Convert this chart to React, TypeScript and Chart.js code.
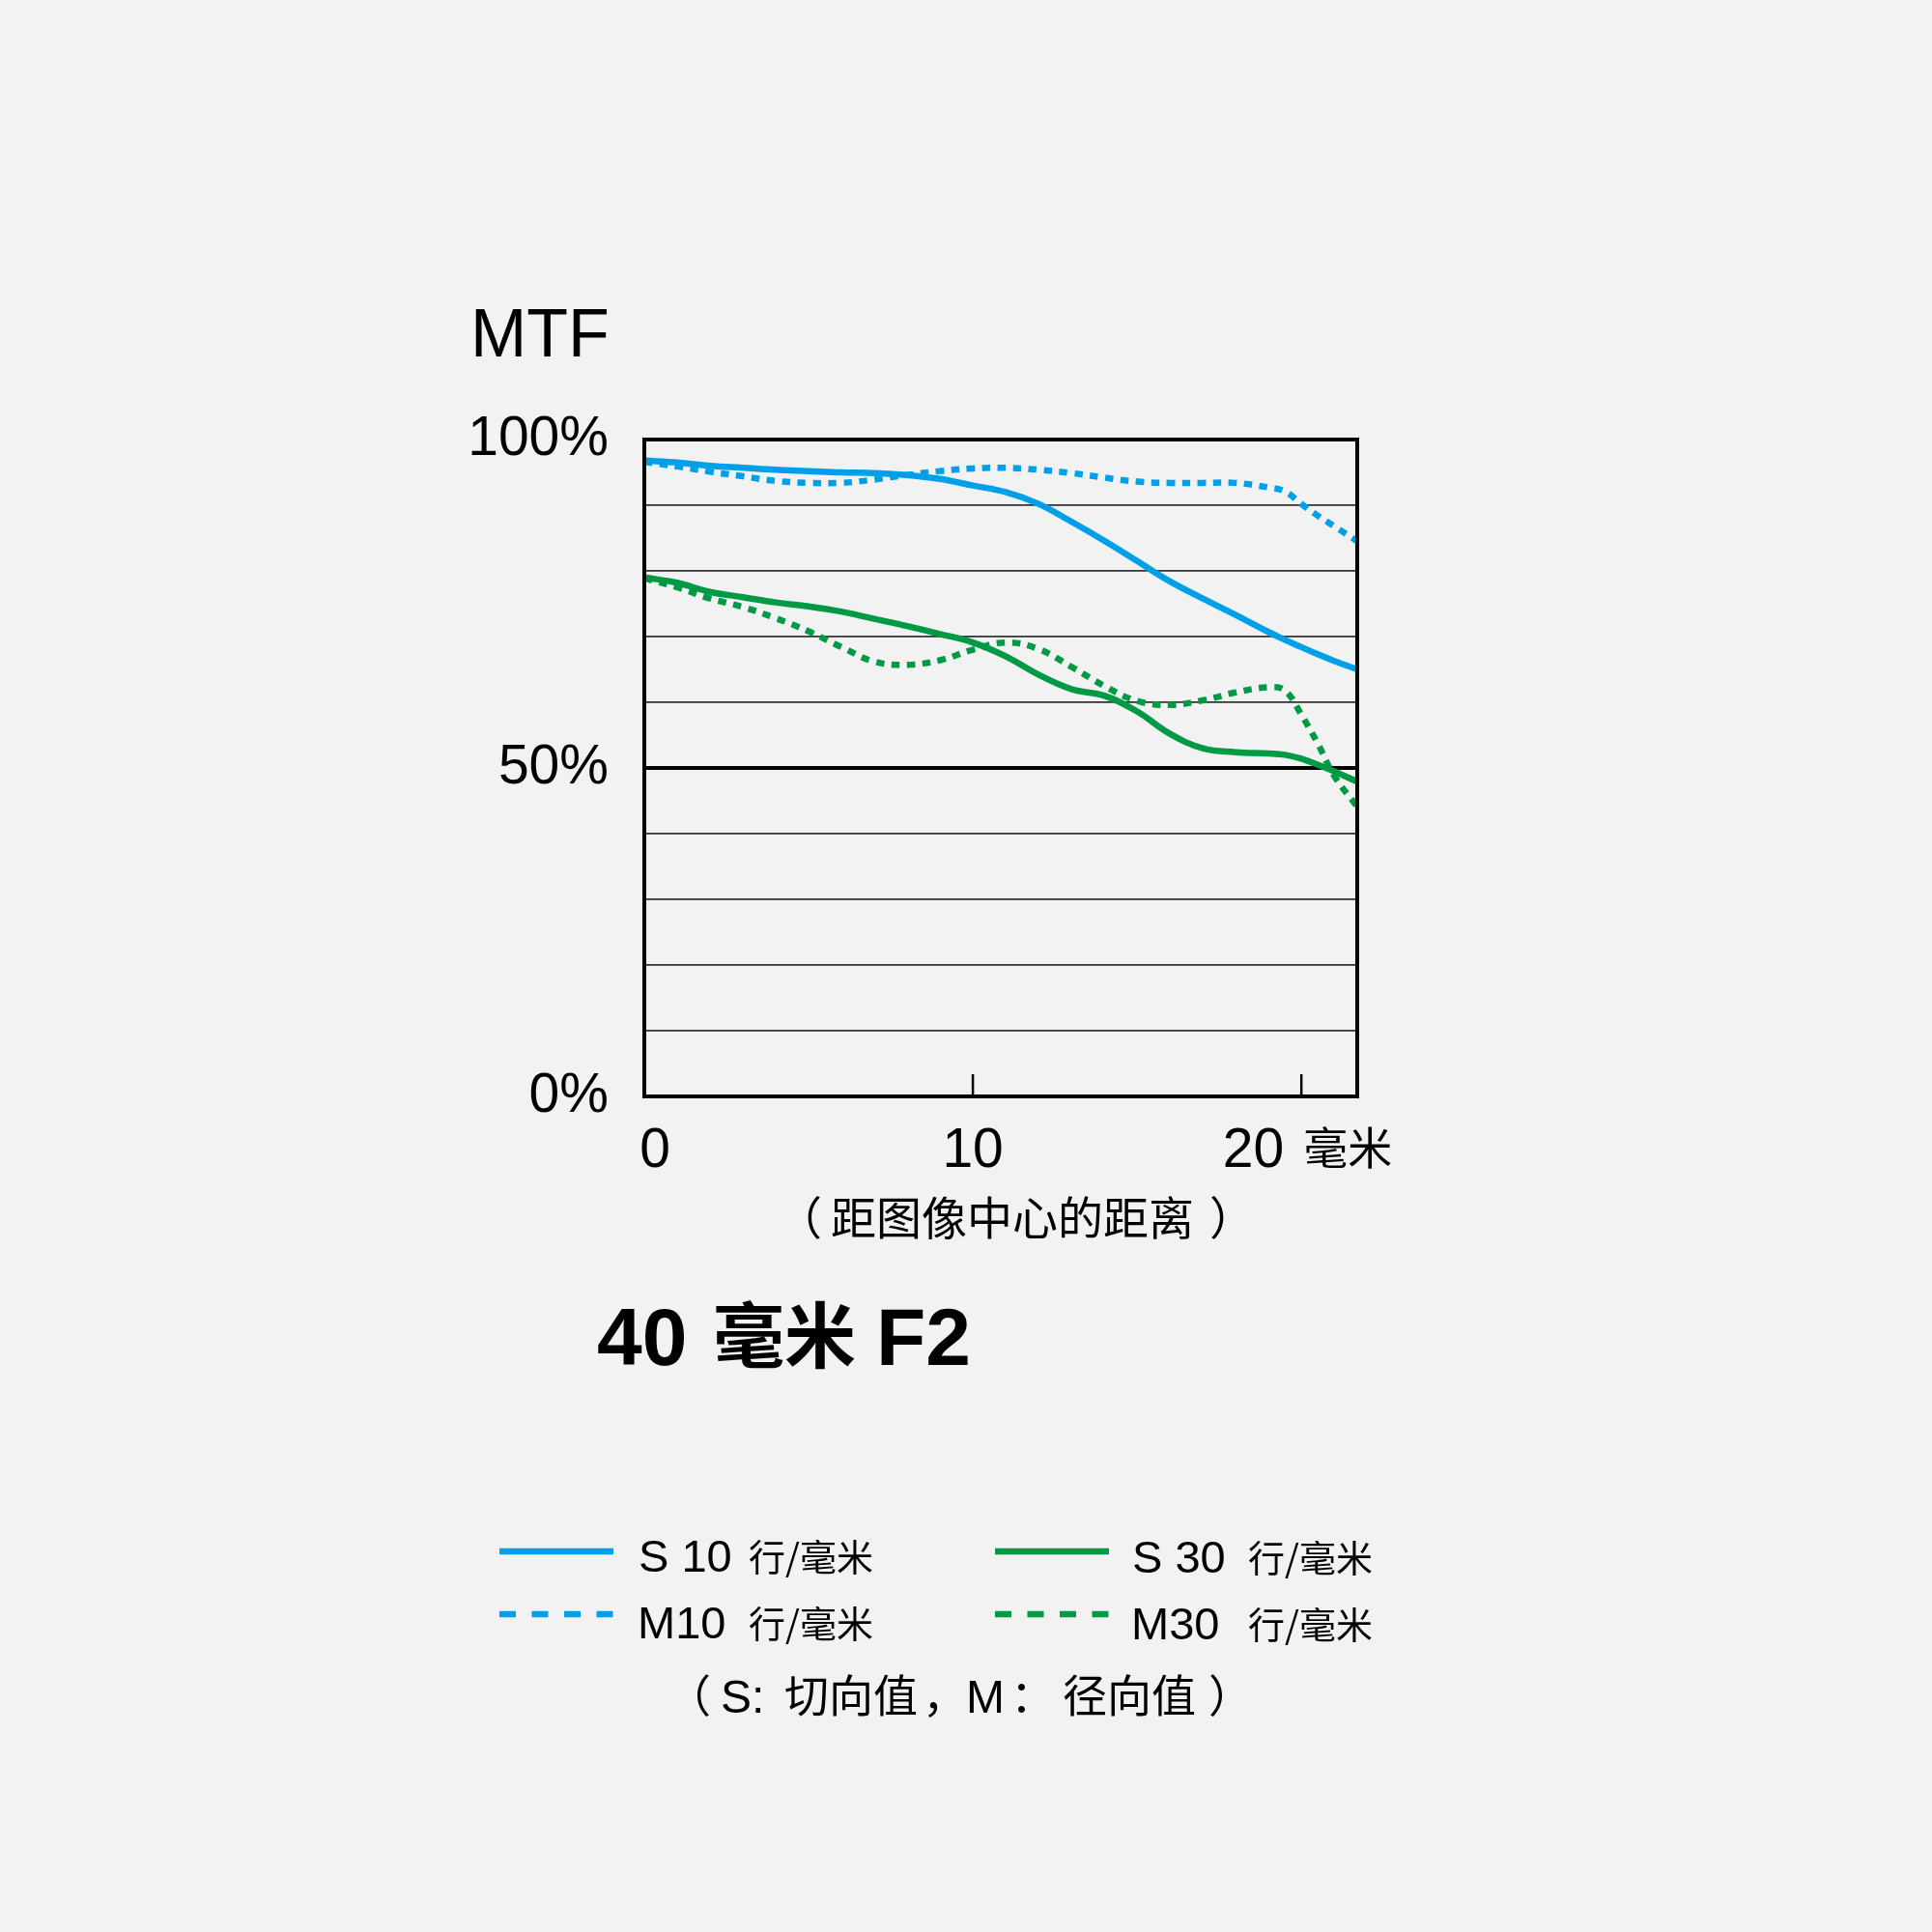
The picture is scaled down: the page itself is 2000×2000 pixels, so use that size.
import React, { useEffect, useRef } from "react";
import { Chart, registerables } from "chart.js";

Chart.register(...registerables);

// ---- data ----
const xPositions = [0, 1, 2, 3, 4, 5, 6, 7, 8, 9, 10, 11, 12, 13, 14, 15, 16, 17, 18, 19, 19.5, 20, 20.5, 21, 21.7];
const s10 = [96.8, 96.5, 96.0, 95.7, 95.4, 95.2, 95.0, 94.9, 94.6, 94.0, 93.0, 92.0, 90.2, 87.5, 84.6, 81.5, 78.4, 75.8, 73.3, 70.7, 69.5, 68.4, 67.3, 66.3, 65.0];
const m10 = [96.6, 95.9, 95.1, 94.4, 93.7, 93.4, 93.4, 93.9, 94.6, 95.2, 95.6, 95.7, 95.4, 94.9, 94.2, 93.6, 93.4, 93.4, 93.4, 92.7, 92.1, 90.2, 88.4, 86.8, 84.5];
const s30 = [79.0, 78.2, 76.8, 76.0, 75.2, 74.6, 73.8, 72.7, 71.6, 70.4, 69.1, 67.0, 64.2, 62.0, 61.0, 58.6, 55.2, 53.0, 52.4, 52.2, 52.0, 51.4, 50.5, 49.5, 47.9];
const m30 = [78.9, 77.5, 75.8, 74.5, 72.8, 70.8, 68.4, 66.2, 65.7, 66.4, 68.0, 69.1, 68.1, 65.4, 62.5, 60.2, 59.6, 60.3, 61.5, 62.3, 61.8, 58.1, 53.7, 48.8, 44.1];
const xTicks = [0, 10, 20];
const yGridValues = [0, 10, 20, 30, 40, 50, 60, 70, 80, 90, 100];
const yLabelValues = [0, 50, 100];
const xMax = 21.7;

const BLUE = "#00a0e9";
const GREEN = "#009944";
const LATIN = '"Liberation Sans", Arial, sans-serif';
const CJK = '"Noto Sans CJK SC", "Liberation Sans", sans-serif';

const toPts = (arr: number[]) => arr.map((v, i) => ({ x: xPositions[i], y: v }));

const decorPlugin = {
  id: "decor",
  afterDatasetsDraw(chart: any) {
    const ctx = chart.ctx;
    const { left, right, top, bottom } = chart.chartArea;
    const xs = chart.scales.x;
    ctx.save();
    // frame
    ctx.strokeStyle = "#000";
    ctx.lineWidth = 4;
    ctx.strokeRect(left, top, right - left, bottom - top);
    // inner tick marks
    ctx.lineWidth = 2.5;
    xTicks.forEach((t) => {
      if (t === 0) return;
      const px = xs.getPixelForValue(t);
      ctx.beginPath();
      ctx.moveTo(px, bottom);
      ctx.lineTo(px, bottom - 23);
      ctx.stroke();
    });
    ctx.fillStyle = "#000";
    ctx.textBaseline = "alphabetic";
    // x tick labels
    ctx.font = `57px ${LATIN}`;
    ctx.textAlign = "center";
    ctx.fillText("0", xs.getPixelForValue(0) + 11, 1208);
    ctx.fillText("10", xs.getPixelForValue(10), 1208);
    ctx.textAlign = "right";
    ctx.fillText("20", xs.getPixelForValue(20) - 18, 1208);
    ctx.textAlign = "left";
    ctx.font = `46px ${CJK}`;
    ctx.fillText("毫米", xs.getPixelForValue(20) + 2, 1205);
    // axis title
    ctx.font = `47px ${CJK}`;
    ctx.fillText("（", 804, 1278);
    ctx.fillText("距图像中心的距离", 860, 1278);
    ctx.fillText("）", 1252, 1278);
    // MTF
    ctx.font = `70px ${LATIN}`;
    ctx.fillText("MTF", 487, 369);
    // main title
    ctx.font = `bold 84px ${LATIN}`;
    ctx.fillText("40", 618, 1413);
    ctx.font = `bold 74px ${CJK}`;
    ctx.fillText("毫米", 738, 1410);
    ctx.font = `bold 84px ${LATIN}`;
    ctx.fillText("F2", 907, 1413);
    // legend
    const legend = [
      { color: BLUE, dash: [] as number[], x: 517, y: 1606, label: "S 10", tx: 661, cx: 775, by: 1627 },
      { color: BLUE, dash: [17, 16.5], x: 517, y: 1671, label: "M10", tx: 660, cx: 775, by: 1696 },
      { color: GREEN, dash: [] as number[], x: 1030, y: 1606, label: "S 30", tx: 1172, cx: 1292, by: 1628 },
      { color: GREEN, dash: [17, 16.5], x: 1030, y: 1671, label: "M30", tx: 1171, cx: 1292, by: 1697 },
    ];
    legend.forEach((l) => {
      ctx.strokeStyle = l.color;
      ctx.lineWidth = 6.5;
      ctx.setLineDash(l.dash);
      ctx.beginPath();
      ctx.moveTo(l.x, l.y);
      ctx.lineTo(l.x + 118, l.y);
      ctx.stroke();
      ctx.setLineDash([]);
      ctx.font = `47px ${LATIN}`;
      ctx.fillText(l.label, l.tx, l.by);
      ctx.font = `38px ${CJK}`;
      ctx.fillText("行/毫米", l.cx, l.by - 1);
    });
    // note
    ctx.font = `46px ${CJK}`;
    ctx.fillText("（", 690, 1772);
    ctx.font = `48px ${LATIN}`;
    ctx.fillText("S:", 746, 1773);
    ctx.font = `46px ${CJK}`;
    ctx.fillText("切向值", 812, 1772);
    ctx.fillText("，", 955, 1772);
    ctx.font = `48px ${LATIN}`;
    ctx.fillText("M", 1000, 1773);
    ctx.font = `46px ${CJK}`;
    ctx.fillText("：", 1046, 1772);
    ctx.fillText("径向值", 1100, 1772);
    ctx.fillText("）", 1251, 1772);
    ctx.restore();
  },
};

export default function App() {
  const ref = useRef<HTMLCanvasElement>(null);
  useEffect(() => {
    if (!ref.current) return;
    document.body.style.margin = "0";
    const ds = (label: string, data: number[], color: string, dashed: boolean) => ({
      label,
      data: toPts(data),
      borderColor: color,
      backgroundColor: color,
      borderWidth: 6.5,
      borderDash: dashed ? [8.5, 7.5] : [],
      borderCapStyle: "butt" as const,
      borderJoinStyle: "round" as const,
      pointRadius: 0,
      fill: false,
      tension: 0.4,
    });
    const chart = new Chart(ref.current, {
      type: "line",
      data: {
        datasets: [
          ds("S10", s10, BLUE, false),
          ds("M10", m10, BLUE, true),
          ds("S30", s30, GREEN, false),
          ds("M30", m30, GREEN, true),
        ],
      },
      options: {
        responsive: false,
        animation: false,
        devicePixelRatio: 1,
        layout: { padding: { top: 455, right: 595, bottom: 0, left: 0 } },
        plugins: { legend: { display: false }, tooltip: { enabled: false }, title: { display: false } },
        scales: {
          x: {
            type: "linear",
            min: 0,
            max: xMax,
            grid: { display: false },
            border: { display: false },
            ticks: { display: false },
            afterFit: (s: any) => {
              s.height = 865;
            },
          },
          y: {
            min: 0,
            max: 100,
            border: { display: false },
            afterBuildTicks: (s: any) => {
              s.ticks = yGridValues.map((v) => ({ value: v }));
            },
            grid: {
              drawTicks: false,
              color: (c: any) => (c.tick && c.tick.value === 50 ? "#000000" : "#333333"),
              lineWidth: (c: any) => (c.tick && c.tick.value === 50 ? 4 : 1.7),
            },
            ticks: {
              autoSkip: false,
              padding: 37,
              color: "#000",
              font: { family: LATIN, size: 57 },
              callback: (v: any) => (yLabelValues.includes(Number(v)) ? `${v}%` : ""),
            },
            afterFit: (s: any) => {
              s.width = 667;
            },
          },
        },
      },
      plugins: [decorPlugin],
    });
    return () => chart.destroy();
  }, []);
  return (
    <div style={{ position: "absolute", left: 0, top: 0, width: 2000, height: 2000, background: "#f2f2f2" }}>
      <canvas ref={ref} width={2000} height={2000} style={{ width: 2000, height: 2000, display: "block" }} />
    </div>
  );
}
